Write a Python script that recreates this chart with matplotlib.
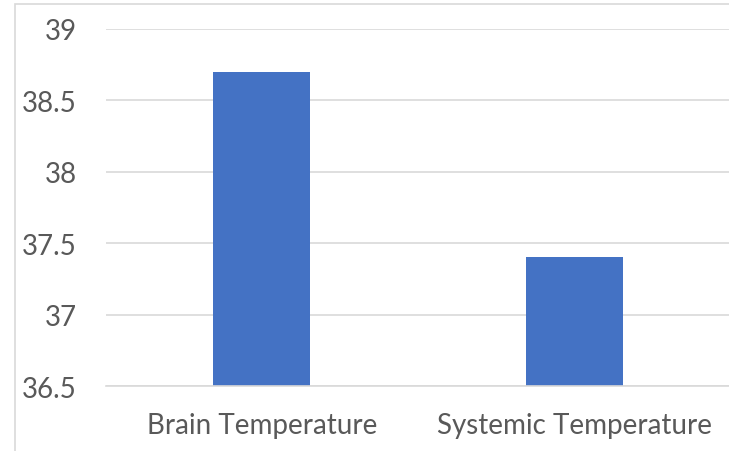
import matplotlib.pyplot as plt
from matplotlib.patches import Rectangle

categories = ["Brain Temperature", "Systemic Temperature"]
temps = [38.7, 37.4]
yticks = [36.5, 37, 37.5, 38, 38.5, 39]
ytick_labels = ["36.5", "37", "37.5", "38", "38.5", "39"]

plt.rcParams['font.family'] = ['Lato', 'DejaVu Sans']

fig = plt.figure(figsize=(7.29, 4.52), dpi=100)
ax = fig.add_axes([0.145, 0.1438, 0.857, 0.79])

# outer chart frame
fig.patches.append(Rectangle((15 / 729, -0.1), 1.1, 1.1 - 5 / 452,
                             transform=fig.transFigure, fill=False,
                             edgecolor="#d9d9d9", linewidth=1.2))

x = range(len(categories))
ax.bar(x, temps, width=0.31, color="#4472c4", zorder=2)

ax.set_xlim(-0.5, 1.5)
ax.set_ylim(36.5, 39)
ax.set_yticks(yticks)
ax.set_yticklabels(ytick_labels)
ax.set_xticks(list(x))
ax.set_xticklabels(categories)
ax.yaxis.grid(True, color="#d9d9d9", linewidth=1.2, zorder=0)
ax.set_axisbelow(True)

for s in ["top", "right", "left"]:
    ax.spines[s].set_visible(False)
ax.spines["bottom"].set_color("#d9d9d9")
ax.spines["bottom"].set_linewidth(1.2)

ax.tick_params(axis="both", length=0, labelsize=20, labelcolor="#595959")
ax.tick_params(axis="y", pad=21)
ax.tick_params(axis="x", pad=19)

fig.savefig("out.png", dpi=100)
